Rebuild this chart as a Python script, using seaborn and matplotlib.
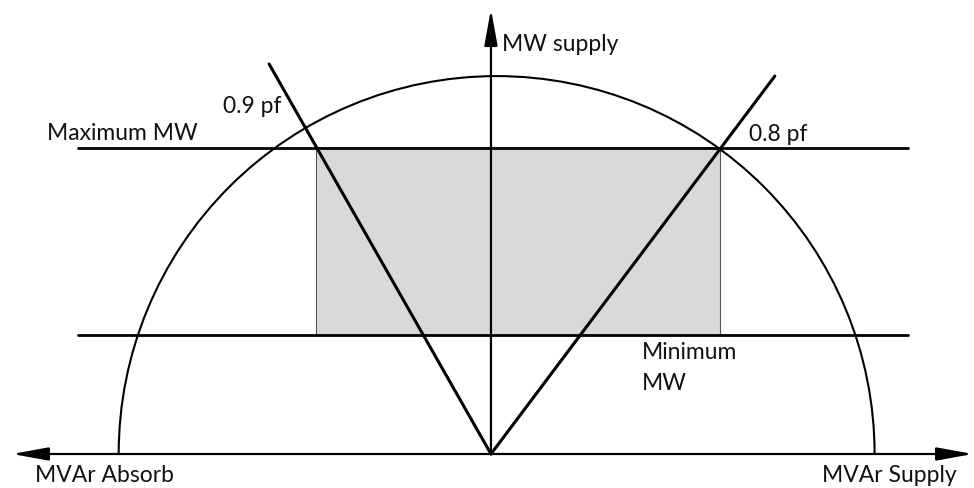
import matplotlib
matplotlib.use("Agg")
import matplotlib.pyplot as plt
import seaborn as sns
import pandas as pd
from matplotlib.patches import Arc, Rectangle

# capability chart in MVA units (rating = 100)
rating = 100
circle_center_q = 1.5

max_mw = 81.0
min_mw = 31.5
mw_line_q = [-109.3, 110.3]

region_q = [-46.3, 60.6]          # shaded operating region (MVAr)

pf09_q = [0, -58.7]
pf09_p = [0, 103.2]
pf08_q = [0, 75.1]
pf08_p = [0, 100.0]

axis_q = [-126.7, 127.5]
axis_p_top = 117.7

labels = {
    "MW supply": (2.8, 108.5, "left"),
    "0.9 pf": (-55.3, 92.1, "right"),
    "Maximum MW": (-117.5, 85.2, "left"),
    "0.8 pf": (68.3, 84.7, "left"),
    "Minimum": (40.0, 27.0, "left"),
    "MW": (40.0, 19.0, "left"),
    "MVAr Absorb": (-120.6, -5.3, "left"),
    "MVAr Supply": (87.6, -5.3, "left"),
}

sns.set_theme(style="white")
plt.rcParams["font.family"] = ["Lato", "DejaVu Sans"]

fig = plt.figure(figsize=(9.74, 4.89), dpi=100)
ax = fig.add_axes([0, 0, 1, 1])
ax.set_xlim(-129.9, 127.8)
ax.set_ylim(-9.0, 120.4)
ax.axis("off")

# shaded region
ax.add_patch(Rectangle((region_q[0], min_mw), region_q[1] - region_q[0], max_mw - min_mw,
                       facecolor="#d9d9d9", edgecolor="#555555", linewidth=0.8, zorder=1))

# semicircle of MVA rating
ax.add_patch(Arc((circle_center_q, 0), 2 * rating, 2 * rating, theta1=0, theta2=180,
                 color="black", linewidth=1.5, zorder=2))

# max / min MW lines
for level in [max_mw, min_mw]:
    df = pd.DataFrame({"q": mw_line_q, "p": [level, level]})
    sns.lineplot(data=df, x="q", y="p", ax=ax, color="black", linewidth=2.0, zorder=3)

# power factor lines
for q, p in [(pf09_q, pf09_p), (pf08_q, pf08_p)]:
    df = pd.DataFrame({"q": q, "p": p})
    sns.lineplot(data=df, x="q", y="p", ax=ax, color="black", linewidth=2.2, sort=False, zorder=3)

# axes arrows
arrow = dict(arrowstyle="<|-|>,head_length=1.1,head_width=0.2", color="black",
             linewidth=1.6, shrinkA=0, shrinkB=0, mutation_scale=20)
ax.annotate("", xy=(axis_q[1], 0), xytext=(axis_q[0], 0), arrowprops=arrow, zorder=4)
arrow_up = dict(arrow, arrowstyle="-|>,head_length=1.1,head_width=0.2")
ax.annotate("", xy=(0, axis_p_top), xytext=(0, 0), arrowprops=arrow_up, zorder=4)

for text, (x, y, ha) in labels.items():
    ax.text(x, y, text, ha=ha, va="center", fontsize=16.5, color="#111111")

fig.savefig("out.png", dpi=100)
